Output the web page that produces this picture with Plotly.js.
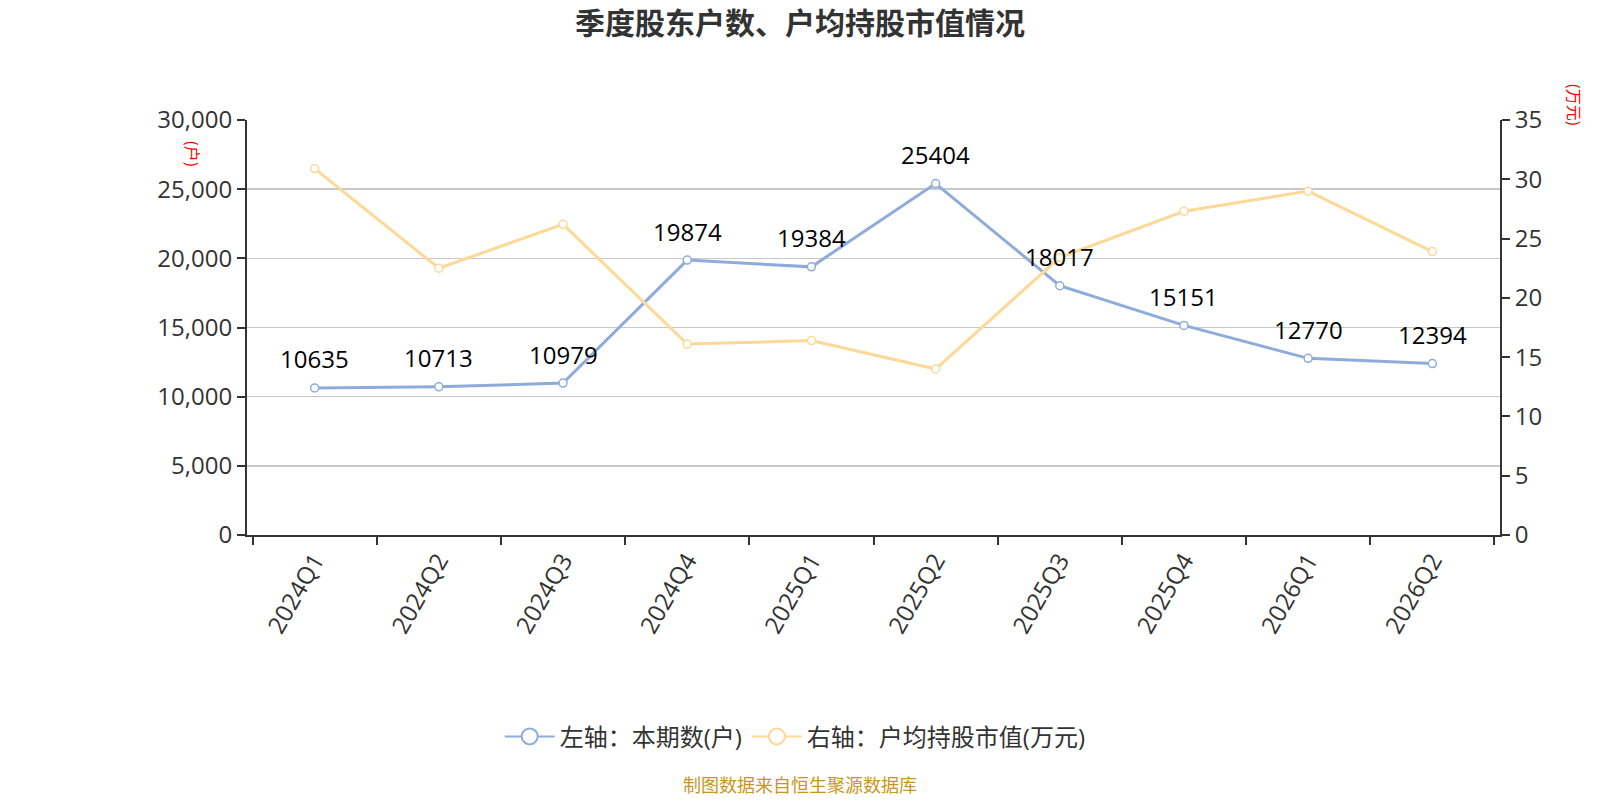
<!DOCTYPE html>
<html>
<head>
<meta charset="utf-8">
<script src="https://cdn.plot.ly/plotly-3.0.1.min.js"></script>
<style>
  body { margin: 0; background: #fff; }
  #chart { width: 1600px; height: 800px; }
</style>
</head>
<body>
<div id="chart"></div>
<script>
const quarters = ["2024Q1", "2024Q2", "2024Q3", "2024Q4", "2025Q1", "2025Q2", "2025Q3", "2025Q4", "2026Q1", "2026Q2"];
const holders = [10635, 10713, 10979, 19874, 19384, 25404, 18017, 15151, 12770, 12394];
const avgValue = [30.9, 22.5, 26.2, 16.1, 16.4, 14.0, 23.4, 27.3, 29.0, 23.9];

const seriesNames = ["左轴：本期数(户)", "右轴：户均持股市值(万元)"];
const blue = "#8eacdb";
const yellow = "#fdd896";
const font = "'Open Sans', 'Noto Sans CJK SC', sans-serif";

function series(y, name, color, axis) {
  return {
    x: quarters, y: y, name: name,
    mode: "lines+markers",
    line: {color: color, width: 3},
    marker: {symbol: "circle", size: 8, color: "#fff", line: {color: color, width: 1.5}},
    cliponaxis: false,
    showlegend: false,
    yaxis: axis
  };
}

// legend entries only (bigger circle like the original), no data drawn
function legendItem(name, color) {
  return {
    x: [null], y: [null], name: name,
    mode: "lines+markers",
    line: {color: color, width: 2},
    marker: {symbol: "circle", size: 16, color: "#fff", line: {color: color, width: 2}},
    showlegend: true
  };
}

const traces = [
  series(holders, seriesNames[0], blue, "y"),
  series(avgValue, seriesNames[1], yellow, "y2"),
  legendItem(seriesNames[0], blue),
  legendItem(seriesNames[1], yellow)
];

// value labels above the blue points
const labels = quarters.map((q, i) => ({
  x: q, y: holders[i], xref: "x", yref: "y",
  text: String(holders[i]),
  showarrow: false,
  yshift: 29,
  font: {size: 24, color: "#000"}
}));

const axisStyle = {
  automargin: false,
  ticks: "outside",
  ticklen: 8,
  tickcolor: "#333",
  tickwidth: 2,
  showline: true,
  linecolor: "#333",
  linewidth: 2,
  zeroline: false,
  tickfont: {size: 24, color: "#333"}
};

const plotL = 247, plotR = 1500, plotT = 120, plotB = 535;

const layout = {
  width: 1600,
  height: 800,
  margin: {l: plotL, r: 1600 - plotR, t: plotT, b: 800 - plotB},
  paper_bgcolor: "#fff",
  plot_bgcolor: "#fff",
  font: {family: font, color: "#333", size: 20},
  title: {
    text: "<b>季度股东户数、户均持股市值情况</b>",
    font: {size: 30, color: "#333"},
    xref: "container",
    x: 0.5, xanchor: "center",
    y: 0.971, yanchor: "middle"
  },
  showlegend: true,
  legend: {
    orientation: "h",
    xref: "container", yref: "container",
    x: 0.497, xanchor: "center",
    y: 0.079, yanchor: "middle",
    itemwidth: 50,
    itemsizing: "trace",
    font: {size: 24, color: "#333"}
  },
  xaxis: Object.assign({}, axisStyle, {
    type: "category",
    tickson: "boundaries",
    showgrid: false,
    tickangle: -60
  }),
  yaxis: Object.assign({}, axisStyle, {
    range: [0, 30000],
    dtick: 5000,
    tickformat: ",d",
    gridcolor: "#c8c8c8",
    gridwidth: 1.5
  }),
  yaxis2: Object.assign({}, axisStyle, {
    overlaying: "y",
    side: "right",
    range: [0, 35],
    dtick: 5,
    showgrid: false
  }),
  annotations: labels.concat([{
    text: "(户)",
    xref: "paper", yref: "paper",
    xanchor: "center", yanchor: "middle",
    x: (192 - plotL) / (plotR - plotL), y: (plotB - 154) / (plotB - plotT),
    textangle: 90,
    showarrow: false,
    font: {size: 16, color: "#f00"}
  }, {
    text: "(万元)",
    xref: "paper", yref: "paper",
    xanchor: "center", yanchor: "middle",
    x: (1574 - plotL) / (plotR - plotL), y: (plotB - 105) / (plotB - plotT),
    textangle: 90,
    showarrow: false,
    font: {size: 16, color: "#f00"}
  }, {
    text: "制图数据来自恒生聚源数据库",
    xref: "paper", yref: "paper",
    xanchor: "center", yanchor: "middle",
    x: (800 - plotL) / (plotR - plotL), y: (plotB - 785) / (plotB - plotT),
    showarrow: false,
    font: {size: 18, color: "#c8961e"}
  }])
};

Plotly.newPlot("chart", traces, layout, {staticPlot: true});
</script>
</body>
</html>
